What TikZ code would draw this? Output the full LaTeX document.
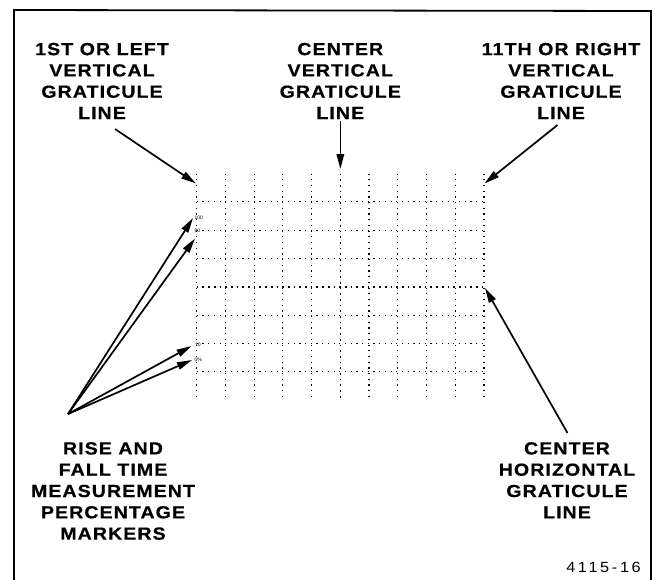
\documentclass[tikz,border=0pt]{standalone}
\usepackage{fontspec}
\setmainfont{Liberation Sans}
\newfontfamily\lblfont[FakeStretch=1.12,LetterSpace=6,FakeBold=0.5]{Liberation Sans Bold}
\newfontfamily\figfont[FakeStretch=1.1,LetterSpace=18]{Liberation Sans}
\usetikzlibrary{arrows.meta}
\begin{document}
\begin{tikzpicture}[x=1pt,y=-1pt,
  lbl/.style={font=\fontsize{17.5}{21.3}\selectfont\lblfont,
              align=center, anchor=north, inner sep=0pt},
  figno/.style={font=\fontsize{14.8}{17}\selectfont\figfont,
              anchor=north east, inner sep=0pt},
  tiny/.style={font=\fontsize{5}{5}\selectfont, anchor=west, inner sep=0pt},
  arr/.style={line width=1.7pt, -{Triangle[length=15pt,width=7.5pt]}},
  frame/.style={line width=1.8pt},
  gridv/.style={line width=1.2pt, dash pattern=on 1.2pt off 4.5pt},
  gridc/.style={line width=1.7pt, dash pattern=on 1.7pt off 4pt}]
\useasboundingbox (0,0) rectangle (661,579);
\fill[white] (0,0) rectangle (661,579);
% frame
\draw[frame] (14,590) -- (14,10) -- (651,11) -- (651,590);
% graticule: vertical lines
\foreach \i in {0,1,2,3,4,6,7,8,9,10}{
  \pgfmathsetmacro\xx{196.7+\i*28.73}
  \draw[gridv] (\xx,173.5) -- (\xx,400.5);
}
\draw[gridc] (340.35,173.5) -- (340.35,400.5);
% horizontal lines
\foreach \j in {1,2,3,5,6,7}{
  \pgfmathsetmacro\yy{173.5+\j*28.33}
  \draw[gridv] (196.7,\yy) -- (484.5,\yy);
}
\draw[gridc] (196.7,286.8) -- (484.5,286.8);
% percentage markers
\node[tiny] (m100) at (194.3,217.7) {100};
\node[tiny] (m90) at (194.3,231) {90};
\node[tiny] (m10) at (194.8,344.3) {10};
\node[tiny] (m0) at (194.3,359.3) {0\%};
% labels
\node[lbl] (tl) at (102,42.7) {1ST OR LEFT\\VERTICAL\\GRATICULE\\LINE};
\node[lbl] (tc) at (340.3,42.7) {CENTER\\VERTICAL\\GRATICULE\\LINE};
\node[lbl] (tr) at (561,42.7) {11TH OR RIGHT\\VERTICAL\\GRATICULE\\LINE};
\node[lbl] (bl) at (113,442) {RISE AND\\FALL TIME\\MEASUREMENT\\PERCENTAGE\\MARKERS};
\node[lbl] (br) at (567,442) {CENTER\\HORIZONTAL\\GRATICULE\\LINE};
\node[figno] (fig) at (641,561.7) {4115-16};
% arrow coordinates
\coordinate (lt0) at (115,129);
\coordinate (lt1) at (196,183.5);
\coordinate (ct0) at (340.35,121);
\coordinate (ct1) at (340.35,169);
\coordinate (rt0) at (557.5,125);
\coordinate (rt1) at (484.5,183.5);
\coordinate (rb0) at (567.5,433);
\coordinate (rb1) at (485,288);
\coordinate (lb0) at (68,414);
\coordinate (lb1) at (193,218);
\coordinate (lb2) at (195,238.5);
\coordinate (lb3) at (191.5,346);
\coordinate (lb4) at (192,360);
% arrows
\draw[arr] (lt0) -- (lt1);
\draw[arr] (ct0) -- (ct1);
\draw[arr] (rt0) -- (rt1);
\draw[arr] (rb0) -- (rb1);
\draw[arr] (lb0) -- (lb1);
\draw[arr] (lb0) -- (lb2);
\draw[arr] (lb0) -- (lb3);
\draw[arr] (lb0) -- (lb4);
\end{tikzpicture}
\end{document}
